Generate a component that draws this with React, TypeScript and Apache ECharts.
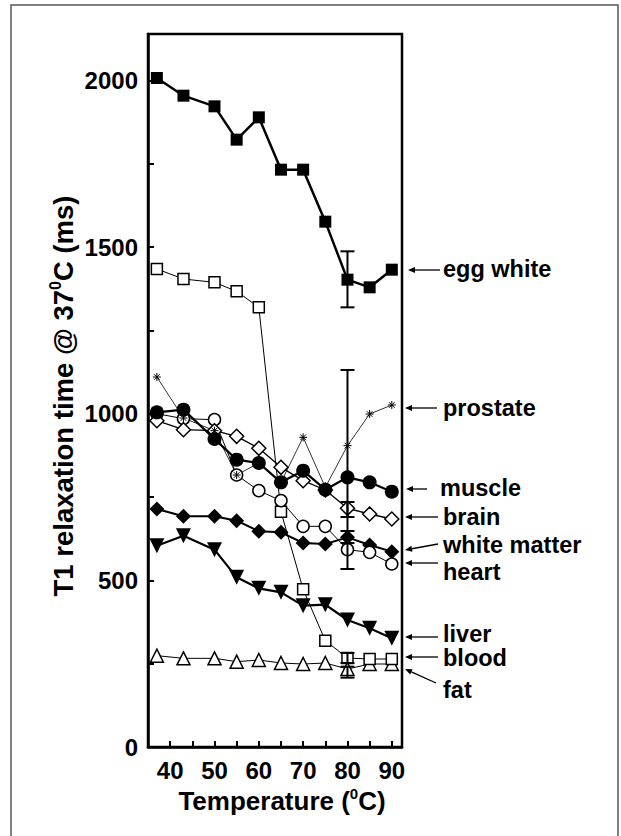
import React, { useEffect, useRef } from "react";
import * as echarts from "echarts";

// Temperatures (°C)
const temps = [37, 43, 50, 55, 60, 65, 70, 75, 80, 85, 90];

// T1 relaxation time @ 37°C (ms)
const eggWhite = [2007, 1954, 1922, 1822, 1889, 1732, 1732, 1576, 1402, 1379, 1432];
const blood = [1434, 1404, 1394, 1367, 1319, 706, 473, 319, 267, 264, 264];
const prostate = [1110, 987, 949, 816, 852, 794, 929, 779, 904, 999, 1026];
const muscle = [1004, 1012, 924, 862, 852, 794, 829, 772, 809, 794, 766];
const brain = [979, 952, 949, 932, 896, 839, 799, 771, 716, 699, 684];
const heart = [1000, 985, 982, 816, 769, 739, 662, 662, 592, 584, 549];
const whiteMatter = [714, 692, 692, 679, 647, 644, 612, 609, 629, 606, 586];
const liver = [604, 634, 592, 509, 476, 464, 424, 427, 381, 356, 326];
const fat = [274, 266, 266, 256, 261, 252, 249, 252, 234, 249, 249];

// Error bars (all at 80 °C)
const errX = [80, 80, 80, 80, 80, 80];
const errLow = [1319, 534, 690, 612, 252, 208];
const errHigh = [1487, 1131, 735, 648, 282, 241];

// Axis ticks
const xTickLabels = [40, 50, 60, 70, 80, 90];
const yTickLabels = [0, 500, 1000, 1500, 2000];

const FONT = "'Liberation Sans', Arial, Helvetica, sans-serif";

const pairs = (vals: number[]) => temps.map((t, i) => [t, vals[i]]);

function arrow(x1: number, y1: number, x2: number, y2: number) {
  // (x2, y2) is the tip
  const ang = Math.atan2(y2 - y1, x2 - x1);
  const L = 7, W = 3;
  const bx = x2 - L * Math.cos(ang), by = y2 - L * Math.sin(ang);
  const px = -Math.sin(ang) * W, py = Math.cos(ang) * W;
  return [
    { type: "line", shape: { x1, y1, x2: bx, y2: by }, style: { stroke: "#000", lineWidth: 1.3 } },
    {
      type: "polygon",
      shape: { points: [[x2, y2], [bx + px, by + py], [bx - px, by - py]] },
      style: { fill: "#000" },
    },
  ];
}

const labelDefs = [
  { text: "egg white", tx: 443, ty: 269, a: [440, 270, 408, 270] },
  { text: "prostate", tx: 443, ty: 408, a: [437, 408, 405, 408] },
  { text: "muscle", tx: 440, ty: 488, a: [427, 489, 406, 489] },
  { text: "brain", tx: 443, ty: 517, a: [438, 517, 405, 517] },
  { text: "white matter", tx: 443, ty: 545, a: [438, 544, 405, 550] },
  { text: "heart", tx: 443, ty: 572, a: [438, 563, 405, 563] },
  { text: "liver", tx: 443, ty: 634, a: [438, 637, 405, 637] },
  { text: "blood", tx: 443, ty: 658, a: [438, 657, 405, 657] },
  { text: "fat", tx: 443, ty: 690, a: [436, 683, 405, 669] },
];

const ASTERISK = "path://M5,0 L5,10 M0,5 L10,5 M1.5,1.5 L8.5,8.5 M1.5,8.5 L8.5,1.5";

export default function App() {
  const ref = useRef<HTMLDivElement>(null);
  useEffect(() => {
    if (!ref.current) return;
    const chart = echarts.init(ref.current, null, { renderer: "svg" });

    const graphic: any[] = [
      {
        type: "rect",
        shape: { x: 11, y: 5, width: 607, height: 850 },
        style: { fill: "none", stroke: "#555", lineWidth: 1.5 },
        silent: true,
      },
      {
        type: "text",
        x: 63,
        y: 396,
        rotation: Math.PI / 2,
        style: {
          text: "{a|T1 relaxation time @ 37}{s|0}{a|C (ms)}",
          align: "center",
          verticalAlign: "middle",
          rich: {
            a: { fontFamily: FONT, fontWeight: "bold", fontSize: 27.5, lineHeight: 31, fill: "#000" },
            s: { fontFamily: FONT, fontWeight: "bold", fontSize: 16, verticalAlign: "top", lineHeight: 16, fill: "#000" },
          },
        },
      },
      {
        type: "text",
        x: 282,
        y: 801,
        style: {
          text: "{a|Temperature (}{s|0}{a|C)}",
          align: "center",
          verticalAlign: "middle",
          rich: {
            a: { fontFamily: FONT, fontWeight: "bold", fontSize: 26, lineHeight: 30, fill: "#000" },
            s: { fontFamily: FONT, fontWeight: "bold", fontSize: 15, verticalAlign: "top", lineHeight: 15, fill: "#000" },
          },
        },
      },
    ];
    labelDefs.forEach((d) => {
      graphic.push(...arrow(d.a[0], d.a[1], d.a[2], d.a[3]));
      graphic.push({
        type: "text",
        x: d.tx,
        y: d.ty,
        style: {
          text: d.text,
          fontFamily: FONT,
          fontWeight: "bold",
          fontSize: 23.5,
          lineHeight: 19,
          fill: "#000",
          align: "left",
          verticalAlign: "middle",
        },
      });
    });

    const lineSeries = (
      name: string,
      vals: number[],
      symbol: string,
      size: number,
      filled: boolean,
      lw: number,
      extra: any = {}
    ) => ({
      type: "line",
      name,
      data: pairs(vals),
      symbol,
      symbolSize: size,
      showAllSymbol: true,
      lineStyle: { color: "#000", width: lw },
      itemStyle: filled
        ? { color: "#000", borderColor: "#000", borderWidth: 0 }
        : { color: "#fff", borderColor: "#000", borderWidth: 1.5 },
      emphasis: { disabled: true },
      ...extra,
    });

    const option: any = {
      animation: false,
      grid: {
        left: 148,
        right: 219,
        top: 34,
        bottom: 89,
        show: true,
        borderColor: "#000",
        borderWidth: 2.5,
        backgroundColor: "transparent",
      },
      xAxis: {
        type: "value",
        min: 35,
        max: 92.3,
        interval: 5,
        axisLine: { show: true, lineStyle: { color: "#000", width: 2.5 } },
        axisTick: { show: true, inside: true, length: 6, lineStyle: { color: "#000", width: 2 } },
        splitLine: { show: false },
        axisLabel: {
          margin: 11,
          fontFamily: FONT,
          fontWeight: "bold",
          fontSize: 24,
          color: "#000",
          showMinLabel: false,
          showMaxLabel: false,
          formatter: (v: number) => (xTickLabels.includes(v) ? String(v) : ""),
        },
      },
      yAxis: {
        type: "value",
        min: 0,
        max: 2139,
        interval: 250,
        axisLine: { show: true, lineStyle: { color: "#000", width: 2.5 } },
        axisTick: { show: true, inside: true, length: 6, lineStyle: { color: "#000", width: 2 } },
        splitLine: { show: false },
        axisLabel: {
          margin: 10,
          fontFamily: FONT,
          fontWeight: "bold",
          fontSize: 24,
          color: "#000",
          showMaxLabel: false,
          formatter: (v: number) => (yTickLabels.includes(v) ? String(v) : ""),
        },
      },
      series: [
        lineSeries("fat", fat, "triangle", 13, false, 1),
        lineSeries("blood", blood, "rect", 11, false, 1),
        lineSeries("liver", liver, "triangle", 15, true, 2.2, { symbolRotate: 180 }),
        lineSeries("white matter", whiteMatter, "diamond", 15, true, 2),
        lineSeries("heart", heart, "circle", 12, false, 1),
        lineSeries("brain", brain, "diamond", 14, false, 1.3),
        {
          type: "line",
          name: "prostate",
          data: pairs(prostate),
          symbol: ASTERISK,
          symbolSize: 8,
          showAllSymbol: true,
          lineStyle: { color: "#000", width: 0.8 },
          itemStyle: { color: "#000", borderColor: "#000", borderWidth: 1 },
          emphasis: { disabled: true },
        },
        lineSeries("muscle", muscle, "circle", 14, true, 2.2),
        lineSeries("egg white", eggWhite, "rect", 12, true, 2.5),
        {
          type: "custom",
          name: "errors",
          data: errX.map((x, i) => [x, errLow[i], errHigh[i]]),
          z: 5,
          renderItem: (params: any, api: any) => {
            const lo = api.coord([api.value(0), api.value(1)]);
            const hi = api.coord([api.value(0), api.value(2)]);
            const w = 7;
            const st = { stroke: "#000", lineWidth: 2 };
            return {
              type: "group",
              children: [
                { type: "line", shape: { x1: lo[0], y1: lo[1], x2: hi[0], y2: hi[1] }, style: st },
                { type: "line", shape: { x1: lo[0] - w, y1: lo[1], x2: lo[0] + w, y2: lo[1] }, style: st },
                { type: "line", shape: { x1: hi[0] - w, y1: hi[1], x2: hi[0] + w, y2: hi[1] }, style: st },
              ],
            };
          },
        },
      ],
      graphic,
    };

    chart.setOption(option);
    return () => chart.dispose();
  }, []);

  return (
    <div
      ref={ref}
      style={{ position: "fixed", left: 0, top: 0, width: 621, height: 836, background: "#fff" }}
    />
  );
}
